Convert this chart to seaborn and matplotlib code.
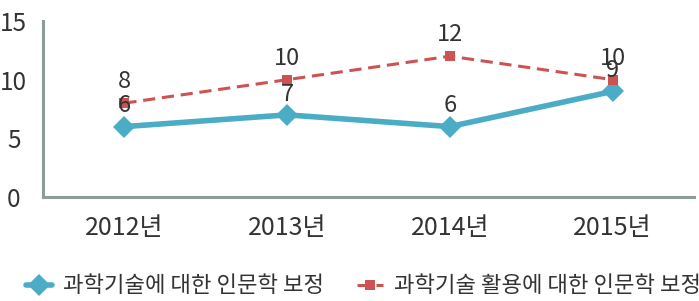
import matplotlib
matplotlib.use("Agg")
import matplotlib.pyplot as plt
import seaborn as sns
import pandas as pd
import numpy as np

years = ["2012년", "2013년", "2014년", "2015년"]
series_a_name = "과학기술에 대한 인문학 보정"
series_b_name = "과학기술 활용에 대한 인문학 보정"
series_a = [6, 7, 6, 9]
series_b = [8, 10, 12, 10]
yticks = [0, 5, 10, 15]

sns.set_theme(style="white")
plt.rcParams['font.family'] = ['Noto Sans CJK KR', 'DejaVu Sans']

blue = "#4bacc6"
red = "#cd5353"
axis_gray = "#8e9c98"
text_col = "#333333"

fig = plt.figure(figsize=(6.99, 3.01), dpi=100)
ax = fig.add_axes([43/699, 1-197/301, (694-43)/699, (197-21)/301])

pos = list(range(len(years)))
df = pd.DataFrame({"x": pos * 2,
                   "y": series_a + series_b,
                   "s": [series_a_name]*len(years) + [series_b_name]*len(years)})

sns.lineplot(data=df[df.s == series_a_name], x="x", y="y", ax=ax, color=blue,
             linewidth=4, marker="D", markersize=11.5, markeredgewidth=0,
             label=series_a_name, legend=False)
sns.lineplot(data=df[df.s == series_b_name], x="x", y="y", ax=ax, color=red,
             linewidth=2.2, marker="s", markersize=7, markeredgewidth=0,
             label=series_b_name, legend=False)
ax.lines[1].set_dashes([4, 2.2])

for xs, v in zip(pos, series_a):
    ax.annotate(str(v), (xs, v), xytext=(0, 15), textcoords="offset points",
                ha="center", va="center", fontsize=17, color=text_col)
for xs, v in zip(pos, series_b):
    ax.annotate(str(v), (xs, v), xytext=(0, 15.5), textcoords="offset points",
                ha="center", va="center", fontsize=17, color=text_col)

ax.set_xlim(-0.5, len(years) - 0.5)
ax.set_ylim(0, 15)
ax.set_xticks(pos)
ax.set_xticklabels(years)
ax.set_yticks(yticks)
ax.set_xlabel("")
ax.set_ylabel("")

for side in ["top", "right"]:
    ax.spines[side].set_visible(False)
for side in ["left", "bottom"]:
    ax.spines[side].set_color(axis_gray)
    ax.spines[side].set_linewidth(2.2)

ax.tick_params(axis="y", direction="inout", length=6, width=1.8, color=axis_gray,
               labelsize=17.5, labelcolor=text_col, pad=18)
ax.tick_params(axis="x", length=0, labelsize=18, labelcolor=text_col, pad=13)
for lab in ax.get_yticklabels():
    lab.set_horizontalalignment("center")

handles = ax.lines[:2]
leg = fig.legend(handles, [series_a_name, series_b_name], loc="center left",
                 bbox_to_anchor=(10/699, 1-286/301), ncol=2, frameon=False,
                 fontsize=16, handlelength=1.2, handletextpad=0.5,
                 columnspacing=1.45, labelcolor=text_col, borderpad=0.2)

fig.savefig("out.png", dpi=100)
